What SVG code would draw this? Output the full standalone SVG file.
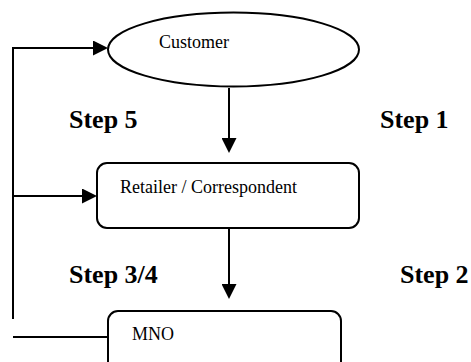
<svg xmlns="http://www.w3.org/2000/svg" width="471" height="362" viewBox="0 0 471 362">
<style>
.node{fill:#fff;stroke:#000;stroke-width:2}
.ln{fill:none;stroke:#000;stroke-width:2}
.t{font-family:'Liberation Serif',serif;font-size:18px;fill:#000}
.s{font-family:'Liberation Serif',serif;font-size:26px;font-weight:bold;fill:#000}
</style>
<defs>
<marker id="ah" markerWidth="15" markerHeight="15" refX="11" refY="7.5" orient="auto" markerUnits="userSpaceOnUse">
<path d="M0,0 L15,7.5 L0,15 z" fill="#000"/>
</marker>
</defs>
<g id="connectors">
<path class="ln" d="M229,88 V149" marker-end="url(#ah)"/>
<path class="ln" d="M229,228 V295" marker-end="url(#ah)"/>
<path class="ln" d="M13,319 V48 H104" marker-end="url(#ah)"/>
<path class="ln" d="M13,196 H93" marker-end="url(#ah)"/>
<path class="ln" d="M13,337 H108"/>
</g>
<g id="customer">
<ellipse class="node" cx="233.5" cy="49.5" rx="125.5" ry="37"/>
<text class="t" x="159" y="48">Customer</text>
</g>
<g id="retailer">
<rect class="node" x="97" y="163" width="262" height="65" rx="10"/>
<text class="t" x="120" y="193">Retailer / Correspondent</text>
</g>
<g id="mno">
<rect class="node" x="108" y="311" width="233" height="70" rx="10"/>
<text class="t" x="132" y="340">MNO</text>
</g>
<g id="labels">
<text class="s" x="69" y="128">Step 5</text>
<text class="s" x="380" y="128">Step 1</text>
<text class="s" x="69" y="283">Step 3/4</text>
<text class="s" x="400" y="283">Step 2</text>
</g>
</svg>
